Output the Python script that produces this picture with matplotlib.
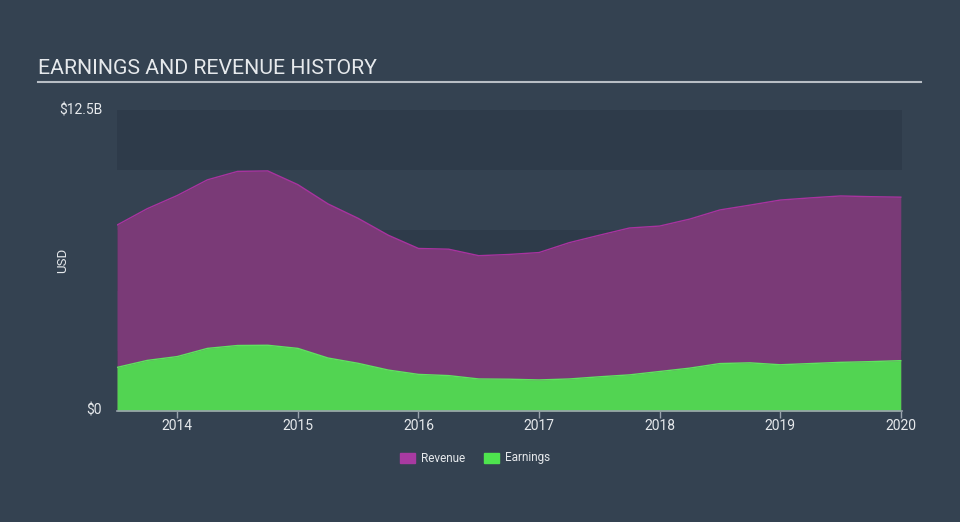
import matplotlib
matplotlib.use('Agg')
import matplotlib.pyplot as plt
from matplotlib.patches import Rectangle

plt.rcParams['font.family'] = ['Roboto', 'DejaVu Sans']

BG = '#344251'
BAND = '#2e3b4a'
REV_FILL = '#7a3a77'
REV_LINE = '#a8339f'
EARN_FILL = '#52d452'
EARN_LINE = '#5fe35f'
TXT = '#e6e9ec'

# quarterly points, decimal years
dates = [2013.5, 2013.75, 2014.0, 2014.25, 2014.5, 2014.75, 2015.0, 2015.25,
         2015.5, 2015.75, 2016.0, 2016.25, 2016.5, 2016.75, 2017.0, 2017.25,
         2017.5, 2017.75, 2018.0, 2018.25, 2018.5, 2018.75, 2019.0, 2019.25,
         2019.5, 2019.75, 2020.0]
revenue = [7.72, 8.40, 8.95, 9.60, 9.95, 9.97, 9.40, 8.60,
           8.00, 7.30, 6.75, 6.72, 6.45, 6.50, 6.58, 6.99,
           7.30, 7.60, 7.68, 7.97, 8.35, 8.55, 8.76, 8.85,
           8.93, 8.90, 8.88]
earnings = [1.81, 2.10, 2.26, 2.60, 2.72, 2.73, 2.60, 2.20,
            1.98, 1.70, 1.52, 1.47, 1.33, 1.32, 1.29, 1.33,
            1.42, 1.50, 1.64, 1.78, 1.97, 2.00, 1.92, 1.97,
            2.02, 2.05, 2.09]
years = [2014, 2015, 2016, 2017, 2018, 2019, 2020]

fig = plt.figure(figsize=(9.6, 5.22), dpi=100)
fig.patch.set_facecolor(BG)
ax = fig.add_axes([117/960, 1-411/522, 785/960, 301/522])
ax.set_facecolor(BG)

# alternating background bands
for lo in [0, 5, 10]:
    ax.axhspan(lo, lo + 2.5, color=BAND, zorder=0, lw=0)

ax.fill_between(dates, revenue, color=REV_FILL, lw=0, zorder=2)
ax.plot(dates, revenue, color=REV_LINE, lw=1.0, zorder=3)
ax.fill_between(dates, earnings, color=EARN_FILL, lw=0, zorder=4)
ax.plot(dates, earnings, color=EARN_LINE, lw=1.0, zorder=5)

ax.set_xlim(dates[0], dates[-1] + 0.01)
ax.set_ylim(0, 12.5)
ax.set_xticks(years)
ax.set_xticklabels([str(y) for y in years], color=TXT, fontsize=10)
ax.set_yticks([])
for s in ['top', 'right', 'left']:
    ax.spines[s].set_visible(False)
ax.spines['bottom'].set_color('#9aa3ad')
ax.spines['bottom'].set_linewidth(1.2)
ax.spines['bottom'].set_zorder(6)
ax.tick_params(axis='x', colors='#9aa3ad', length=5, width=1, pad=1,
               labelcolor=TXT)

ax.text(-0.019, 1.0, '$12.5B', transform=ax.transAxes, ha='right',
        va='center', color=TXT, fontsize=10)
ax.text(-0.019, 0.0, '$0', transform=ax.transAxes, ha='right',
        va='center', color=TXT, fontsize=10)
fig.text(63/960, 1-260/522, 'USD', rotation=90, ha='center', va='center',
         color=TXT, fontsize=9.5)

# title + rule
fig.text(38/960, 1-68/522, 'EARNINGS AND REVENUE HISTORY', ha='left',
         va='center', color=TXT, fontsize=15.3)
fig.add_artist(plt.Line2D([38/960, 921/960], [1-81.5/522, 1-81.5/522],
                          color='#b8bec5', lw=1.5))

# legend
for x0, col, lab in [(400, '#a83aa1', 'Revenue'), (484, '#4ee44e', 'Earnings')]:
    fig.add_artist(Rectangle((x0/960, 1-463/522), 15/960, 10/522,
                             color=col, transform=fig.transFigure))
    fig.text((x0+21)/960, 1-458/522, lab, ha='left', va='center',
             color=TXT, fontsize=8.5)

fig.savefig('out.png', dpi=100, facecolor=BG)
